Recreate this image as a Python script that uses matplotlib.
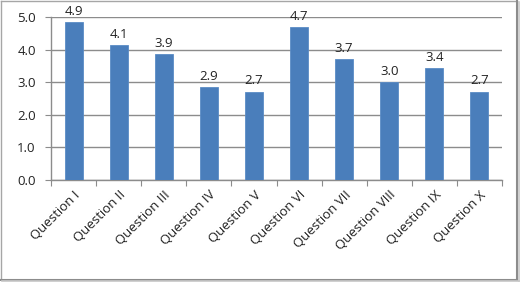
import matplotlib.pyplot as plt
from matplotlib.lines import Line2D

categories = ["Question I", "Question II", "Question III", "Question IV", "Question V",
              "Question VI", "Question VII", "Question VIII", "Question IX", "Question X"]
values = [4.85, 4.14, 3.86, 2.86, 2.71, 4.70, 3.70, 3.00, 3.43, 2.71]
labels = ["4.9", "4.1", "3.9", "2.9", "2.7", "4.7", "3.7", "3.0", "3.4", "2.7"]
yticks = [0.0, 1.0, 2.0, 3.0, 4.0, 5.0]

W, H = 520, 282
plt.rcParams["font.family"] = ["Open Sans", "DejaVu Sans"]

fig = plt.figure(figsize=(W / 100, H / 100), dpi=100)
ax = fig.add_axes([51 / W, 1 - 180 / H, (502 - 51) / W, (180 - 17) / H])

x = range(len(categories))
ax.bar(x, values, width=0.4, color="#4A7EBB", edgecolor="#5B8CC6", linewidth=0.6, zorder=3)
for xi, v, lab in zip(x, values, labels):
    ax.annotate(lab, (xi, v), xytext=(0, 3), textcoords="offset points",
                ha="center", va="bottom", fontsize=9.5, color="#222222", zorder=4)

ax.set_xlim(-0.5, len(categories) - 0.5)
ax.set_ylim(0, 5.0)
ax.set_yticks(yticks)
ax.set_yticklabels([f"{t:.1f}" for t in yticks], fontsize=9.5, color="#222222")
ax.yaxis.grid(True, color="#8C8C8C", linewidth=1.0, zorder=0)
ax.set_axisbelow(True)

ax.set_xticks([i - 0.5 for i in range(len(categories) + 1)], minor=False)
ax.set_xticklabels([])
ax.set_xticks(list(x), minor=True)
ax.set_xticklabels(categories, minor=True, rotation=45, ha="right",
                   rotation_mode="anchor", fontsize=9.5, color="#222222")
ax.tick_params(axis="x", which="minor", length=0, pad=6)
ax.tick_params(axis="x", which="major", length=4, color="#8C8C8C", direction="out")
ax.tick_params(axis="y", length=4, color="#8C8C8C", pad=7)

for s in ["top", "right"]:
    ax.spines[s].set_visible(False)
for s in ["left", "bottom"]:
    ax.spines[s].set_color("#8C8C8C")
    ax.spines[s].set_linewidth(1.0)

# outer chart frame: thin light edge with a darker right/bottom shadow
def px_line(x0, y0, x1, y1, color, lw):
    fig.add_artist(Line2D([x0 / W, x1 / W], [1 - y0 / H, 1 - y1 / H],
                          transform=fig.transFigure, color=color, linewidth=lw))

px_line(0.5, 0.5, 517, 0.5, "#A6A6A6", 1.0)
px_line(0.5, 0.5, 0.5, 279, "#A6A6A6", 1.0)
px_line(517, 0.5, 517, 279.5, "#8C8C8C", 1.5)
px_line(0.5, 279.5, 517, 279.5, "#8C8C8C", 1.5)
px_line(519, 2, 519, 281, "#C8C8C8", 1.2)
px_line(2, 281, 519, 281, "#C8C8C8", 1.2)

fig.savefig("out.png", dpi=100)
